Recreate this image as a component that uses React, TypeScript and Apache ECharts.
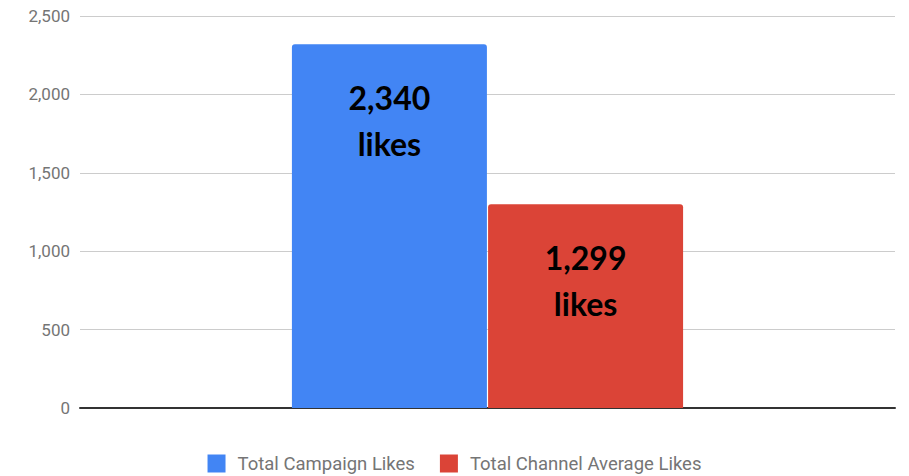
import React, { useEffect, useRef } from "react";
import * as echarts from "echarts";

const categories = ["Likes"];
const seriesNames = ["Total Campaign Likes", "Total Channel Average Likes"];
const campaignValues = [2320];
const channelValues = [1299];
const campaignLabels = ["2,340"];
const channelLabels = ["1,299"];
const yTicks = { min: 0, max: 2500, interval: 500 };

export default function App() {
  const ref = useRef<HTMLDivElement>(null);
  useEffect(() => {
    document.body.style.margin = "0";
    if (!ref.current) return;
    const chart = echarts.init(ref.current, null, { renderer: "svg" });
    const labelStyle = {
      show: true,
      position: "insideTop",
      distance: 30,
      fontFamily: "Lato",
      fontWeight: "bold",
      fontSize: 32,
      lineHeight: 46,
      color: "#000",
    };
    chart.setOption({
      animation: false,
      grid: { left: 80, right: 14, top: 16, bottom: 68 },
      legend: {
        top: 454,
        left: "center",
        padding: 0,
        itemWidth: 18,
        itemHeight: 18,
        itemGap: 25,
        icon: "rect",
        textStyle: { color: "#757575", fontSize: 18.5, fontFamily: "Roboto", padding: [0, 0, 0, 7] },
        data: seriesNames,
      },
      xAxis: {
        type: "category",
        data: categories,
        axisLine: { lineStyle: { color: "#333", width: 2 } },
        axisTick: { show: false },
        axisLabel: { show: false },
      },
      yAxis: {
        type: "value",
        min: yTicks.min,
        max: yTicks.max,
        interval: yTicks.interval,
        axisLine: { show: false },
        axisTick: { show: false },
        axisLabel: {
          color: "#757575",
          fontSize: 17,
          fontFamily: "Roboto",
          margin: 10,
          formatter: (v: number) => v.toLocaleString("en-US"),
        },
        splitLine: { lineStyle: { color: "#cccccc" } },
      },
      series: [
        {
          name: seriesNames[0],
          type: "bar",
          data: campaignValues,
          barWidth: 195,
          barGap: "0.6%",
          itemStyle: { color: "#4285f4", borderRadius: [3, 3, 0, 0] },
          label: {
            ...labelStyle,
            formatter: (p: any) => campaignLabels[p.dataIndex] + "\nlikes",
          },
        },
        {
          name: seriesNames[1],
          type: "bar",
          data: channelValues,
          barWidth: 195,
          itemStyle: { color: "#db4437", borderRadius: [3, 3, 0, 0] },
          label: {
            ...labelStyle,
            formatter: (p: any) => channelLabels[p.dataIndex] + "\nlikes",
          },
        },
      ],
    });
    return () => chart.dispose();
  }, []);
  return <div ref={ref} style={{ width: 909, height: 476 }} />;
}
